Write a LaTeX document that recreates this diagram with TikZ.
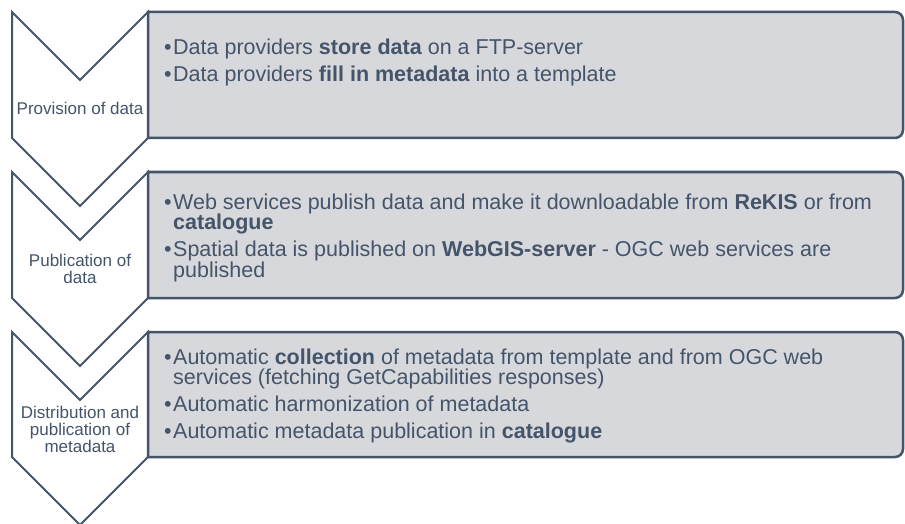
\documentclass[tikz,border=0pt]{standalone}
\usepackage{fontspec}
\setmainfont{Liberation Sans}
\definecolor{slate}{RGB}{68,84,106}
\definecolor{panel}{RGB}{214,216,219}
\newcommand{\bulletitem}{\llap{\textbullet\kern1.5pt}}

\begin{document}
\begin{tikzpicture}[x=1pt,y=-1pt,
  chev/.style={draw=slate, line width=2pt, fill=white, line join=miter},
  panelbox/.style={draw=slate, line width=2.5pt, fill=panel},
  lbl/.style={font=\fontsize{17}{17}\selectfont, text=slate, inner sep=0pt, anchor=base},
  itm/.style={font=\fontsize{21.5}{21}\selectfont, text=slate, inner sep=0pt, anchor=base west}]
\useasboundingbox (0,0) rectangle (905,524);

% chevrons of the three stages
\draw[chev] (12,12) -- (80,80) -- (148,12) -- (148,138) -- (80,206) -- (12,138) -- cycle;
\draw[chev] (12,172) -- (80,240) -- (148,172) -- (148,298) -- (80,366) -- (12,298) -- cycle;
\draw[chev] (12,332) -- (80,400) -- (148,332) -- (148,457) -- (80,525) -- (12,457) -- cycle;

% panels, rounded on the right side only
\draw[panelbox] (148,12) -- (600,12) [rounded corners=8pt] -- (903,12) -- (903,138) -- (600,138) [sharp corners] -- (148,138) -- cycle;
\draw[panelbox] (148,172) -- (600,172) [rounded corners=8pt] -- (903,172) -- (903,298) -- (600,298) [sharp corners] -- (148,298) -- cycle;
\draw[panelbox] (148,332) -- (600,332) [rounded corners=8pt] -- (903,332) -- (903,457) -- (600,457) [sharp corners] -- (148,457) -- cycle;

% stage labels
\node[lbl] (s1) at (80,115) {Provision of data};
\node[lbl] (s2a) at (80,266) {Publication of};
\node[lbl] (s2b) at (80,283) {data};
\node[lbl] (s3a) at (80,418) {Distribution and};
\node[lbl] (s3b) at (80,435) {publication of};
\node[lbl] (s3c) at (80,452) {metadata};

% stage 1 items
\node[itm] (a1) at (173,55) {\bulletitem Data providers \textbf{store data} on a FTP-server};
\node[itm] (a2) at (173,82) {\bulletitem Data providers \textbf{fill in metadata} into a template};

% stage 2 items
\node[itm] (b1) at (173,209) {\bulletitem Web services publish data and make it downloadable from \textbf{ReKIS} or from};
\node[itm] (b1c) at (173,229.5) {\textbf{catalogue}};
\node[itm] (b2) at (173,256) {\bulletitem Spatial data is published on \textbf{WebGIS-server} - OGC web services are};
\node[itm] (b2c) at (173,277) {published};

% stage 3 items
\node[itm] (c1) at (173,364) {\bulletitem Automatic \textbf{collection} of metadata from template and from OGC web};
\node[itm] (c1c) at (173,384) {services (fetching GetCapabilities responses)};
\node[itm] (c2) at (173,411) {\bulletitem Automatic harmonization of metadata};
\node[itm] (c3) at (173,438) {\bulletitem Automatic metadata publication in \textbf{catalogue}};
\end{tikzpicture}
\end{document}
